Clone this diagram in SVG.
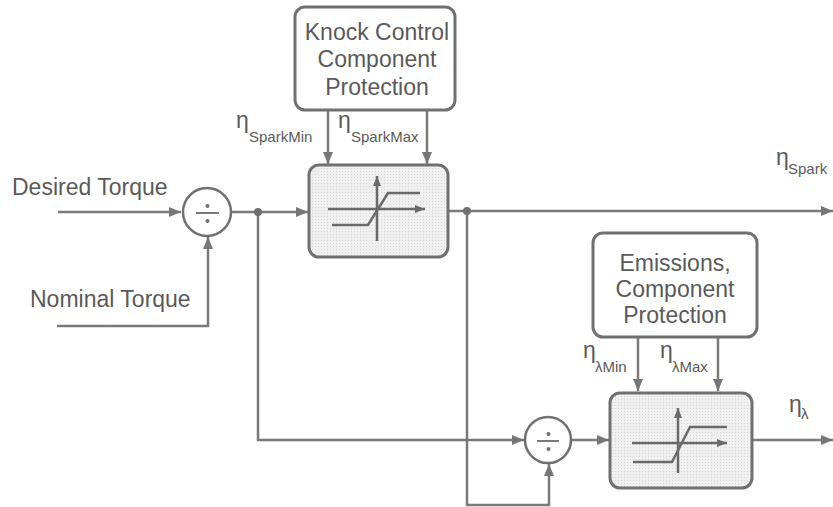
<svg xmlns="http://www.w3.org/2000/svg" width="833" height="507" viewBox="0 0 833 507">
<defs>
<marker id="ah" viewBox="0 0 12 10" refX="12" refY="5" markerWidth="12" markerHeight="10" markerUnits="userSpaceOnUse" orient="auto">
<path d="M0,0 L12,5 L0,10 Z" fill="#767676"/>
</marker>
<marker id="ahs" viewBox="0 0 10 8" refX="10" refY="4" markerWidth="10" markerHeight="8" markerUnits="userSpaceOnUse" orient="auto">
<path d="M0,0 L10,4 L0,8 Z" fill="#6a6a6a"/>
</marker>
<pattern id="dots" width="3" height="3" patternUnits="userSpaceOnUse">
<rect width="3" height="3" fill="#f0f0f0"/>
<rect width="1" height="1" fill="#d8d8d8"/>
</pattern>
</defs>
<style>
.ln{fill:none;stroke:#7a7a7a;stroke-width:2.5}
.box{fill:#ffffff;stroke:#707070;stroke-width:3}
.sat{fill:url(#dots);stroke:#707070;stroke-width:3}
.sym{fill:none;stroke:#6a6a6a;stroke-width:2.5}
.circ{fill:#ffffff;stroke:#707070;stroke-width:2.5}
.t{font-family:"Liberation Sans",Arial,sans-serif;font-size:23px;fill:#5a5a5a}
.eta{font-family:"Liberation Sans",Arial,sans-serif;font-size:23px;fill:#5a5a5a}
.sub{font-family:"Liberation Sans",Arial,sans-serif;font-size:15px;fill:#5a5a5a}
.dot{fill:#707070}
</style>
<rect width="833" height="507" fill="#ffffff"/>

<g id="connectors">
<path class="ln" d="M58,212 L181,212" marker-end="url(#ah)"/>
<path class="ln" d="M57,326 L208,326 L208,237" marker-end="url(#ah)"/>
<path class="ln" d="M231,212 L308,212" marker-end="url(#ah)"/>
<path class="ln" d="M258,212 L258,440 L524,440" marker-end="url(#ah)"/>
<path class="ln" d="M328,110 L328,164" marker-end="url(#ah)"/>
<path class="ln" d="M427,110 L427,164" marker-end="url(#ah)"/>
<path class="ln" d="M448,211 L833,211" marker-end="url(#ah)"/>
<path class="ln" d="M467,211 L467,505 L549,505 L549,464" marker-end="url(#ah)"/>
<path class="ln" d="M571,440 L609,440" marker-end="url(#ah)"/>
<path class="ln" d="M638,337 L638,391" marker-end="url(#ah)"/>
<path class="ln" d="M718,337 L718,391" marker-end="url(#ah)"/>
<path class="ln" d="M752,440 L833,440" marker-end="url(#ah)"/>
<circle class="dot" cx="258" cy="212" r="4"/>
<circle class="dot" cx="467" cy="211" r="4"/>
</g>

<g id="desired-torque">
<text class="t" x="12" y="195">Desired Torque</text>
</g>
<g id="nominal-torque">
<text class="t" x="30" y="307">Nominal Torque</text>
</g>

<g id="div1">
<circle class="circ" cx="207" cy="212" r="24"/>
<line x1="196" y1="213" x2="219" y2="213" stroke="#6a6a6a" stroke-width="1.8"/>
<circle class="dot" cx="207.5" cy="206" r="2"/>
<circle class="dot" cx="207.5" cy="221" r="2"/>
</g>

<g id="knock-box">
<rect class="box" x="295" y="7" width="160" height="103" rx="10"/>
<text class="t" x="377" y="40" text-anchor="middle">Knock Control</text>
<text class="t" x="377" y="67" text-anchor="middle">Component</text>
<text class="t" x="377" y="95" text-anchor="middle">Protection</text>
</g>

<g id="spark-limits">
<text class="eta" x="236" y="128">η</text>
<text class="sub" x="249" y="142">SparkMin</text>
<text class="eta" x="338" y="128">η</text>
<text class="sub" x="351" y="142">SparkMax</text>
</g>

<g id="sat1">
<rect class="sat" x="309" y="165" width="139" height="92" rx="10"/>
<path class="sym" d="M377,241 L377,176" marker-end="url(#ahs)"/>
<path class="sym" d="M328,209 L425,209" marker-end="url(#ahs)"/>
<path class="sym" d="M332,225 L368,225 L388,193 L420,193"/>
</g>

<g id="eta-spark">
<text class="eta" x="776" y="165">η</text>
<text class="sub" x="788" y="174">Spark</text>
</g>

<g id="emissions-box">
<rect class="box" x="593" y="233" width="164" height="104" rx="10"/>
<text class="t" x="675" y="271" text-anchor="middle">Emissions,</text>
<text class="t" x="675" y="297" text-anchor="middle">Component</text>
<text class="t" x="675" y="323" text-anchor="middle">Protection</text>
</g>

<g id="lambda-limits">
<text class="eta" x="583" y="358">η</text>
<text class="sub" x="595" y="372">λMin</text>
<text class="eta" x="660" y="358">η</text>
<text class="sub" x="672" y="372">λMax</text>
</g>

<g id="div2">
<circle class="circ" cx="548" cy="440" r="23"/>
<line x1="537" y1="441" x2="559" y2="441" stroke="#6a6a6a" stroke-width="1.8"/>
<circle class="dot" cx="548.5" cy="434" r="2"/>
<circle class="dot" cx="548.5" cy="449" r="2"/>
</g>

<g id="sat2">
<rect class="sat" x="610" y="393" width="142" height="95" rx="10"/>
<path class="sym" d="M678,473 L678,408" marker-end="url(#ahs)"/>
<path class="sym" d="M632,443 L727,443" marker-end="url(#ahs)"/>
<path class="sym" d="M633,462 L672,462 L690,427 L727,427"/>
</g>

<g id="eta-lambda">
<text class="eta" x="789" y="412">η</text>
<text class="sub" x="801" y="419">λ</text>
</g>
</svg>
